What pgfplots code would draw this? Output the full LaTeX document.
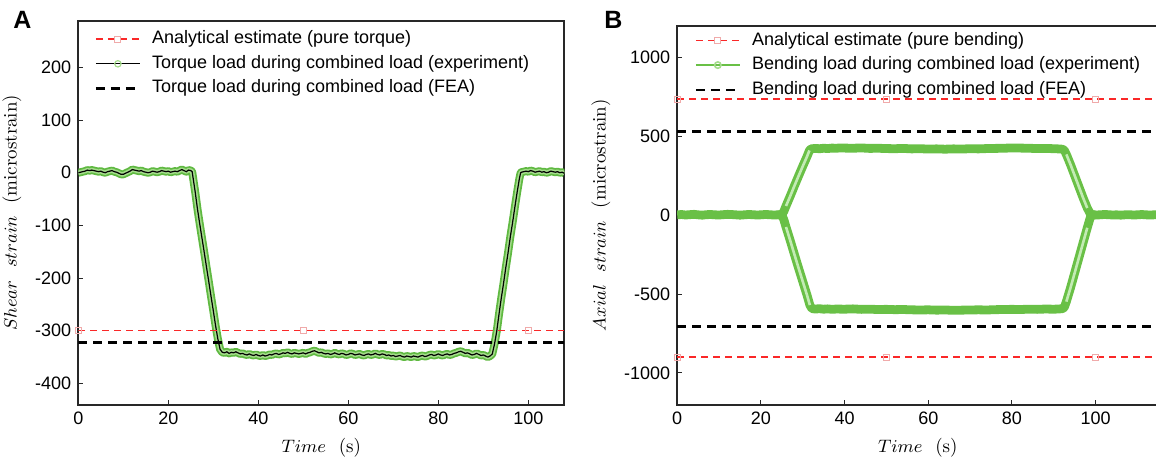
\documentclass[border=0pt]{standalone}
\usepackage{fontspec}
\usepackage{pgfplots}
\usepackage{pgfplotstable}
\pgfplotsset{compat=1.18}
\newfontfamily\arial{Liberation Sans}

\definecolor{redline}{RGB}{250,40,40}
\definecolor{pinkmark}{RGB}{240,170,170}
\definecolor{gedge}{RGB}{95,185,65}
\definecolor{ginner}{RGB}{165,220,140}
\definecolor{gpale}{RGB}{195,235,180}
\definecolor{gband}{RGB}{105,192,70}
\definecolor{axgray}{RGB}{40,40,40}

% shear strain, torque load during combined load (experiment)
\pgfplotstableread{
t v
0 0
0.5 1
1 2
1.5 3
2 5
2.5 4
3 5
3.5 4
4 3
4.5 2
5 3
5.5 1
6 0
6.5 2
7 3
7.5 4
8 2
8.5 1
9 -1
9.5 -3
10 -3
10.5 -1
11 1
11.5 3
12 6
12.5 5
13 4
13.5 3
14 4
14.5 2
15 1
15.5 0
16 1
16.5 3
17 2
17.5 1
18 2
18.5 4
19 3
19.5 2
20 3
20.5 1
21 2
21.5 3
22 2
22.5 4
23 6
23.5 4
24 2
24.5 5
25 4
25.3 2
25.6 -15
26 -38
26.5 -70
27 -98
27.5 -125
28 -152
28.5 -180
29 -207
29.5 -235
30 -262
30.5 -290
31 -315
31.5 -335
32 -341
32.5 -342
33 -340
33.5 -343
34 -341
34.5 -342
35 -340
35.5 -342
36 -344
36.5 -343
37 -345
37.5 -346
38 -344
38.5 -346
39 -347
39.5 -345
40 -347
40.5 -348
41 -346
41.5 -348
42 -347
42.5 -345
43 -346
43.5 -344
44 -343
44.5 -345
45 -344
45.5 -342
46 -343
46.5 -341
47 -343
47.5 -344
48 -342
48.5 -343
49 -344
49.5 -343
50 -342
50.5 -344
51 -342
51.5 -341
52 -339
52.5 -338
53 -340
53.5 -342
54 -341
54.5 -343
55 -344
55.5 -343
56 -345
56.5 -344
57 -342
57.5 -344
58 -345
58.5 -343
59 -344
59.5 -346
60 -345
60.5 -343
61 -344
61.5 -346
62 -345
62.5 -344
63 -346
63.5 -347
64 -345
64.5 -344
65 -346
65.5 -345
66 -343
66.5 -345
67 -346
67.5 -344
68 -345
68.5 -347
69 -346
69.5 -348
70 -347
70.5 -349
71 -348
71.5 -347
72 -349
72.5 -350
73 -348
73.5 -349
74 -350
74.5 -348
75 -349
75.5 -350
76 -348
76.5 -347
77 -349
77.5 -348
78 -346
78.5 -345
79 -347
79.5 -346
80 -344
80.5 -346
81 -347
81.5 -345
82 -344
82.5 -346
83 -345
83.5 -343
84 -342
84.5 -340
85 -339
85.5 -341
86 -343
86.5 -342
87 -344
87.5 -346
88 -345
88.5 -343
89 -345
89.5 -347
90 -346
90.5 -348
91 -350
91.5 -348
92 -344
92.5 -325
93 -300
93.5 -268
94 -238
94.5 -210
95 -180
95.5 -152
96 -122
96.5 -95
97 -66
97.5 -38
98 -12
98.3 0
98.5 1
99 2
99.5 3
100 2
100.5 4
101 3
101.5 1
102 2
102.5 3
103 1
103.5 2
104 0
104.5 1
105 3
105.5 2
106 1
106.5 2
107 0
107.5 1
108 -1
}\shear

% axial strain, upper gauge
\pgfplotstableread{
t v
0 2
1 4
2 1
3 3
4 5
5 2
6 0
7 3
8 4
9 2
10 1
11 3
12 5
13 4
14 2
15 0
16 2
17 4
18 3
19 1
20 2
21 4
22 3
23 1
24 2
25 3
25.5 25
26 58
27 120
28 185
29 248
30 310
31 370
31.6 410
32 420
33 423
34 421
35 424
36 422
37 425
38 424
39 426
40 425
42 424
44 426
46 423
48 424
50 422
52 421
54 423
56 420
58 421
60 419
62 420
64 418
66 420
68 419
70 421
72 420
74 422
76 423
78 424
80 426
82 425
84 424
86 422
88 423
90 421
91 420
92 418
92.5 412
93 385
94 320
95 250
96 180
97 110
98 45
98.8 5
99 3
100 1
101 2
102 4
103 3
104 1
105 2
106 0
107 2
108 3
109 1
110 2
111 4
112 2
113 1
114 2
115 3
}\axup

% axial strain, lower gauge
\pgfplotstableread{
t v
24 1
25 3
25.5 -30
26 -75
27 -160
28 -248
29 -335
30 -420
31 -505
31.7 -570
32.2 -592
33 -595
34 -593
35 -596
36 -594
37 -597
38 -595
40 -596
42 -594
44 -597
46 -596
48 -598
50 -597
52 -599
54 -598
56 -600
58 -601
60 -600
62 -602
64 -601
66 -603
68 -602
70 -601
72 -600
74 -601
76 -599
78 -598
80 -597
82 -598
84 -596
86 -597
88 -595
90 -596
91 -595
92 -593
92.5 -585
93 -548
94 -460
95 -365
96 -270
97 -175
98 -80
98.8 -8
99 3
100 1
}\axlow

\pgfplotsset{
  strainaxis/.style={
    scale only axis,
    axis line style={axgray, line width=1pt},
    tick pos=left, tick align=inside,
    major tick length=2.5pt,
    every tick/.style={axgray, line width=0.5pt},
    ticklabel style={font=\arial\fontsize{9}{10}\selectfont},
    /pgf/number format/assume math mode=true,
    /pgf/number format/1000 sep={},
    scaled ticks=false,
    label style={font=\fontsize{9.5}{11}\selectfont},
    xlabel={$Time$\ \ (s)},
    xmin=0, xtick={0,20,...,100},
    legend cell align=left,
    legend style={draw=none, fill=none, at={(0,1)}, anchor=north west,
      inner sep=0pt, /tikz/column sep=3.5pt,
      font=\arial\fontsize{9}{10}\selectfont,
      nodes={text height=6.5pt, text depth=2pt, inner ysep=1.9pt, inner xsep=2pt}},
    legend image code/.code={\draw[mark repeat=2, mark phase=2, #1]
      plot coordinates {(0pt,0pt) (11pt,0pt) (22pt,0pt)};},
  },
  anal/.style={draw=redline, color=redline, line width=0.75pt, dash pattern=on 3.5pt off 2.5pt,
    mark=square, mark size=1.5pt, mark options={solid, draw=pinkmark, fill=none, line width=0.45pt}},
  fea/.style={black, line width=1.2pt, dash pattern=on 4.5pt off 3pt},
}

\begin{document}
\begin{tikzpicture}

% ---- A ----
\begin{axis}[strainaxis,
    at={(39.15pt,31pt)}, anchor=south west,
    width=243pt, height=192.25pt,
    xmax=108, ymin=-441, ymax=289,
    ytick={-400,-300,...,200},
    ylabel={$Shear\ \ strain$\ \ (microstrain)},
    legend style={xshift=8pt, yshift=-3pt}]
  \addlegendimage{anal}
  \addlegendentry{Analytical estimate (pure torque)}
  \addlegendimage{black, line width=0.6pt, mark=o, mark size=1.6pt, mark options={ginner}}
  \addlegendentry{Torque load during combined load (experiment)}
  \addlegendimage{fea}
  \addlegendentry{Torque load during combined load (FEA)}

  \addplot[gedge, line width=4pt, line join=round, forget plot] table {\shear};
  \addplot[ginner, line width=2.2pt, line join=round, forget plot] table {\shear};
  \addplot[black, line width=0.6pt, forget plot] table {\shear};

  \addplot[anal, mark indices={1,2,3}, forget plot] coordinates {(0,-300) (50,-300) (100,-300) (108,-300)};
  \addplot[fea, forget plot] coordinates {(0,-322) (108,-322)};
\end{axis}

% ---- B ----
\begin{axis}[strainaxis,
    at={(338.6pt,31.25pt)}, anchor=south west,
    width=240.6pt, height=189.35pt,
    xmax=115, ymin=-1200, ymax=1200,
    ytick={-1000,-500,0,500,1000},
    ylabel={$Axial\ \ strain$\ \ (microstrain)},
    legend style={xshift=8.5pt, yshift=-1pt}]
  \addlegendimage{anal}
  \addlegendentry{Analytical estimate (pure bending)}
  \addlegendimage{gband, line width=0.8pt, mark=o, mark size=1.6pt, mark options={ginner}}
  \addlegendentry{Bending load during combined load (experiment)}
  \addlegendimage{fea}
  \addlegendentry{Bending load during combined load (FEA)}

  \addplot[gband, line width=4.4pt, line join=round, forget plot] table {\axup};
  \addplot[gband, line width=4.4pt, line join=round, forget plot] table {\axlow};
  % paler core along the ramps, where the open markers spread apart
  \addplot[gpale, line width=1.3pt, restrict x to domain=26:31.6, forget plot] table {\axup};
  \addplot[gpale, line width=1.3pt, restrict x to domain=93:98, forget plot] table {\axup};
  \addplot[gpale, line width=1.3pt, restrict x to domain=26:31.7, forget plot] table {\axlow};
  \addplot[gpale, line width=1.3pt, restrict x to domain=93:98, forget plot] table {\axlow};

  \addplot[anal, mark indices={1,2,3}, forget plot] coordinates {(0,735) (50,735) (100,735) (115,735)};
  \addplot[anal, mark indices={1,2,3}, forget plot] coordinates {(0,-900) (50,-900) (100,-900) (115,-900)};
  \addplot[fea, forget plot] coordinates {(0,530) (115,530)};
  \addplot[fea, forget plot] coordinates {(0,-705) (115,-705)};
\end{axis}

\node[anchor=north west, inner sep=0pt, font=\arial\bfseries\fontsize{12.5}{14}\selectfont] at (6.5pt,228pt) {A};
\node[anchor=north west, inner sep=0pt, font=\arial\bfseries\fontsize{12.5}{14}\selectfont] at (302pt,228pt) {B};

\pgfresetboundingbox
\useasboundingbox (0,0) rectangle (578pt,233.5pt);
\end{tikzpicture}
\end{document}
